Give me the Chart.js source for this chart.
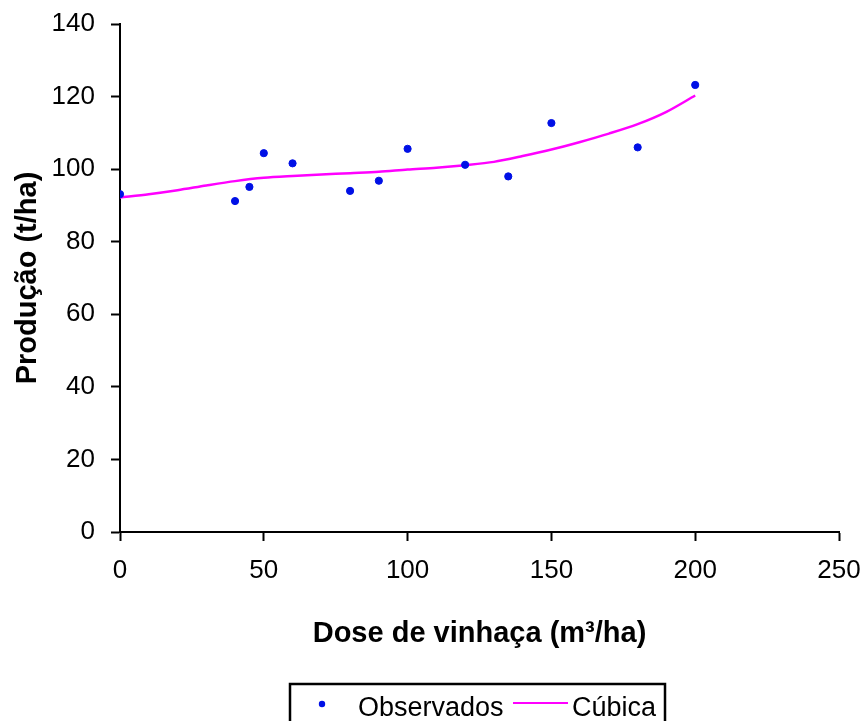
<!DOCTYPE html>
<html>
<head>
<meta charset="utf-8">
<script src="https://cdn.jsdelivr.net/npm/chart.js@4/dist/chart.umd.min.js"></script>
<style>
  html, body { margin: 0; padding: 0; background: #fff; }
  canvas { display: block; }
</style>
</head>
<body>
<canvas id="producaoChart" width="863" height="721"></canvas>
<script>
// Pontos observados (dose m3/ha, produção t/ha)
const obsDose = [0, 40, 45, 50, 60, 80, 90, 100, 120, 135, 150, 180, 200];
const obsProd = [93.1, 91.2, 95.1, 104.4, 101.6, 94.0, 96.8, 105.6, 101.2, 98.0, 112.7, 106.0, 123.2];

// Curva cúbica
const fitDose = [0, 10, 20, 30, 40, 50, 60, 70, 80, 90, 100, 110, 120, 130, 140, 150, 160, 170, 180, 190, 200];
const fitProd = [92.2, 93.1, 94.2, 95.5, 96.7, 97.6, 98.1, 98.5, 98.9, 99.3, 99.9, 100.4, 101.1, 102.0, 103.6, 105.4, 107.5, 109.8, 112.4, 115.8, 120.3];

const xTicks = [0, 50, 100, 150, 200, 250];
const yTicks = [0, 20, 40, 60, 80, 100, 120, 140];

const FONT = "'Liberation Sans', Arial, sans-serif";

const toPoints = (xs, ys) => xs.map((x, i) => ({ x: x, y: ys[i] }));

// Legenda com moldura (estilo Excel)
const boxLegend = {
    id: 'boxLegend',
    afterDraw(chart) {
        const ctx = chart.ctx;
        const ds = chart.data.datasets;
        ctx.save();
        ctx.strokeStyle = '#000';
        ctx.lineWidth = 2.5;
        ctx.strokeRect(290, 684, 375, 60);

        ctx.font = '27px ' + FONT;
        ctx.fillStyle = '#000';
        ctx.textBaseline = 'alphabetic';

        // Observados
        ctx.beginPath();
        ctx.arc(322, 704, 3.2, 0, Math.PI * 2);
        ctx.fillStyle = ds[0].backgroundColor;
        ctx.fill();
        ctx.fillStyle = '#000';
        ctx.fillText(ds[0].label, 358, 716);

        // Cúbica
        ctx.beginPath();
        ctx.moveTo(513, 703);
        ctx.lineTo(568, 703);
        ctx.strokeStyle = ds[1].borderColor;
        ctx.lineWidth = 2;
        ctx.stroke();
        ctx.fillText(ds[1].label, 572, 716);
        ctx.restore();
    }
};

const axisBase = {
    type: 'linear',
    grid: { drawOnChartArea: false, drawTicks: true, tickLength: 9, tickWidth: 2, tickColor: '#000' },
    border: { display: true, color: '#000', width: 2 },
};

new Chart(document.getElementById('producaoChart').getContext('2d'), {
    type: 'scatter',
    data: {
        datasets: [
            {
                label: 'Observados',
                data: toPoints(obsDose, obsProd),
                backgroundColor: '#0010e6',
                borderColor: '#0010e6',
                borderWidth: 1,
                pointRadius: 3.6,
                showLine: false
            },
            {
                label: 'Cúbica',
                data: toPoints(fitDose, fitProd),
                borderColor: '#ff00ff',
                backgroundColor: '#ff00ff',
                borderWidth: 2.5,
                pointRadius: 0,
                showLine: true,
                tension: 0.3,
                fill: false
            }
        ]
    },
    options: {
        responsive: false,
        animation: false,
        events: [],
        layout: { padding: { top: 24, right: 24, bottom: 0, left: 0 } },
        plugins: {
            legend: { display: false },
            tooltip: { enabled: false }
        },
        scales: {
            x: {
                ...axisBase,
                min: 0,
                max: 250,
                afterBuildTicks: s => { s.ticks = xTicks.map(v => ({ value: v })); },
                afterFit: s => { s.height = 189; s.paddingLeft = 0; s.paddingRight = 0; },
                ticks: { color: '#000', padding: 14, font: { family: FONT, size: 26 } },
                title: {
                    display: true,
                    text: 'Dose de vinhaça (m³/ha)',
                    color: '#000',
                    font: { family: FONT, size: 29, weight: 'bold' },
                    padding: { top: 0, bottom: 70 }
                }
            },
            y: {
                ...axisBase,
                min: 0,
                max: 140,
                afterBuildTicks: s => { s.ticks = yTicks.map(v => ({ value: v })); },
                afterFit: s => { s.width = 120; s.paddingTop = 0; s.paddingBottom = 0; },
                ticks: { color: '#000', padding: 16, font: { family: FONT, size: 26 } },
                title: {
                    display: true,
                    text: 'Produção (t/ha)',
                    color: '#000',
                    font: { family: FONT, size: 29, weight: 'bold' },
                    padding: { top: 11, bottom: 0 }
                }
            }
        }
    },
    plugins: [boxLegend]
});
</script>
</body>
</html>
